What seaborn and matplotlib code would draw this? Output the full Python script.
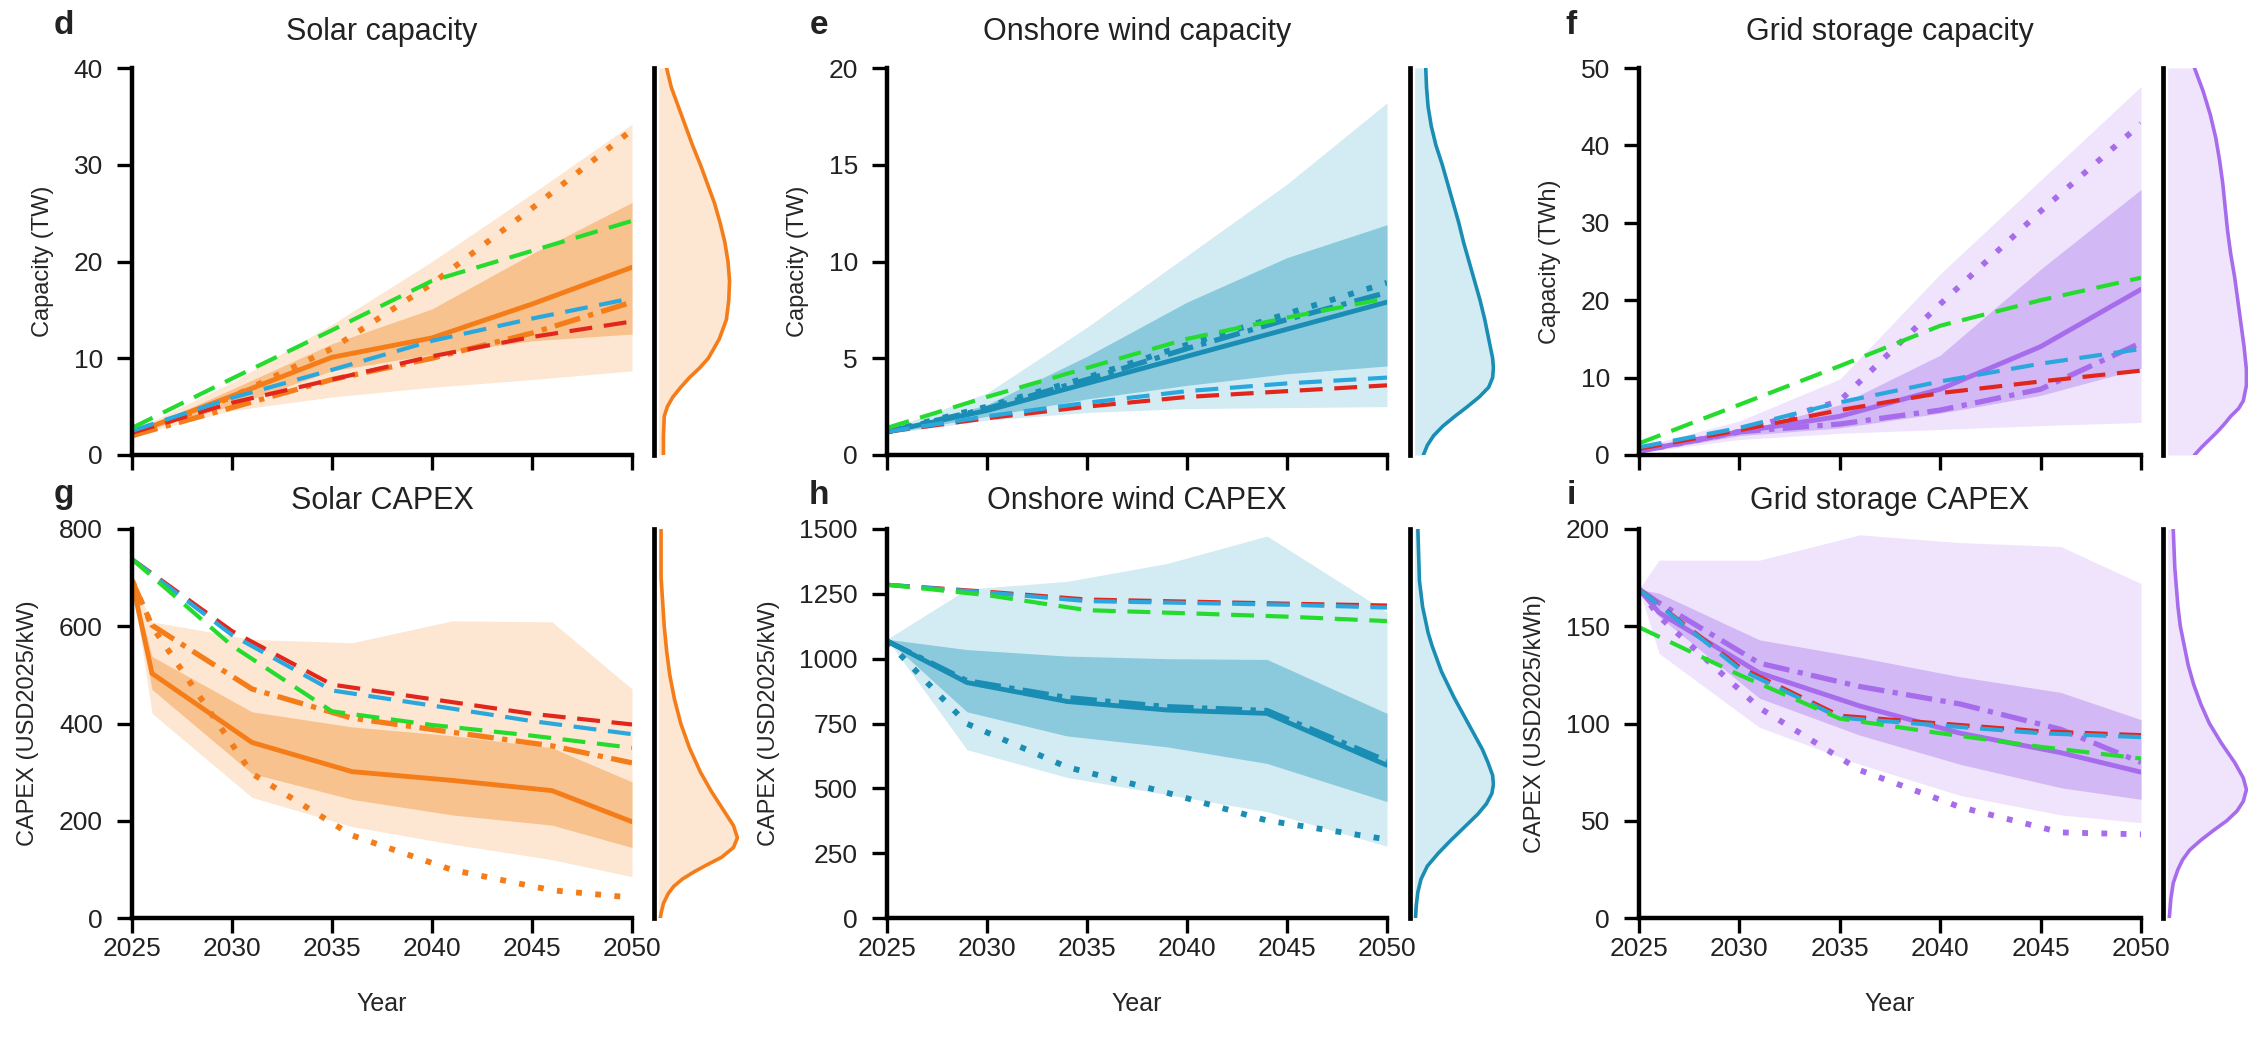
import matplotlib
matplotlib.use("Agg")
import matplotlib.pyplot as plt
import seaborn as sns

sns.set_theme(style="ticks")
plt.rcParams['font.family'] = ['Liberation Sans', 'DejaVu Sans']
plt.rcParams['text.color'] = '#222222'
plt.rcParams['xtick.color'] = 'black'
plt.rcParams['ytick.color'] = 'black'
plt.rcParams['xtick.labelcolor'] = '#222222'
plt.rcParams['ytick.labelcolor'] = '#222222'

# ---- data ----
years_5 = [2025, 2030, 2035, 2040, 2045, 2050]
years_g = [2025, 2026, 2031, 2036, 2041, 2046, 2050]
years_h = [2025, 2029, 2034, 2039, 2044, 2050]
year_ticks = [2025, 2030, 2035, 2040, 2045, 2050]

# d: solar capacity (TW)
solar_cap_med = [2.2, 6.1, 10.1, 12.1, 15.6, 19.4]
solar_cap_q_lo = [2.2, 5.1, 8.7, 10.4, 11.8, 12.5]
solar_cap_q_hi = [2.2, 6.8, 11.5, 15.1, 20.8, 26.1]
solar_cap_lo = [2.0, 4.6, 6.0, 7.0, 7.8, 8.7]
solar_cap_hi = [2.5, 7.5, 13.5, 20.0, 27.0, 34.2]
solar_cap_dot = [2.0, 6.0, 11.0, 17.7, 25.5, 33.6]
solar_cap_dashdot = [2.0, 4.9, 7.8, 10.0, 12.6, 15.8]
solar_cap_green = [2.8, 7.9, 12.9, 18.0, 21.1, 24.2]
solar_cap_blue = [2.5, 5.9, 8.8, 11.8, 14.1, 16.2]
solar_cap_red = [2.3, 5.4, 7.8, 10.2, 12.2, 13.8]
solar_cap_kde_y = [0, 2, 4, 5, 6, 7, 8, 9, 10, 12, 14, 16, 18, 20, 22, 24, 26, 28, 30, 32, 34, 36, 38, 40]
solar_cap_kde = [0.06, 0.06, 0.07, 0.11, 0.18, 0.28, 0.39, 0.52, 0.63, 0.77, 0.86, 0.89, 0.9, 0.88, 0.84, 0.78, 0.71, 0.62, 0.53, 0.43, 0.34, 0.25, 0.16, 0.1]

# e: onshore wind capacity (TW)
wind_cap_med = [1.2, 2.3, 3.7, 5.1, 6.5, 7.9]
wind_cap_q_lo = [1.1, 2.0, 2.9, 3.6, 4.2, 4.6]
wind_cap_q_hi = [1.2, 2.6, 5.1, 7.9, 10.2, 11.9]
wind_cap_lo = [1.1, 1.8, 2.2, 2.4, 2.45, 2.5]
wind_cap_hi = [1.3, 3.2, 6.6, 10.3, 14.0, 18.2]
wind_cap_dot = [1.2, 2.5, 4.0, 5.7, 7.3, 8.9]
wind_cap_dashdot = [1.2, 2.4, 3.9, 5.5, 7.0, 8.4]
wind_cap_green = [1.4, 3.0, 4.5, 6.0, 7.1, 8.1]
wind_cap_blue = [1.2, 2.0, 2.7, 3.3, 3.7, 4.0]
wind_cap_red = [1.2, 1.9, 2.5, 3.0, 3.3, 3.6]
wind_cap_kde_y = [0, 0.5, 1, 1.5, 2, 2.5, 3, 3.5, 4, 4.5, 5, 6, 7, 8, 9, 10, 11, 12, 13, 14, 15, 16, 17, 18, 19, 20]
wind_cap_kde = [0.11, 0.16, 0.24, 0.36, 0.51, 0.67, 0.82, 0.94, 0.99, 1.0, 0.99, 0.94, 0.89, 0.83, 0.76, 0.69, 0.62, 0.56, 0.49, 0.42, 0.35, 0.27, 0.21, 0.17, 0.15, 0.14]

# f: grid storage capacity (TWh)
stor_cap_med = [0.5, 3.0, 5.0, 8.5, 14.0, 21.4]
stor_cap_q_lo = [0.3, 2.5, 3.5, 5.4, 7.7, 11.2]
stor_cap_q_hi = [0.5, 3.0, 6.5, 12.9, 24.0, 34.3]
stor_cap_lo = [0.3, 2.0, 2.8, 3.3, 3.8, 4.2]
stor_cap_hi = [1.0, 4.4, 9.8, 23.4, 35.5, 47.6]
stor_cap_dot = [0.5, 3.0, 7.0, 19.5, 31.5, 42.8]
stor_cap_dashdot = [0.5, 3.0, 4.0, 5.8, 8.5, 14.5]
stor_cap_green = [1.5, 6.5, 11.5, 16.7, 20.0, 22.9]
stor_cap_blue = [1.0, 3.5, 6.8, 9.5, 11.8, 13.7]
stor_cap_red = [0.8, 3.2, 5.8, 8.0, 9.5, 10.9]
stor_cap_kde_y = [0, 1, 2, 3, 4, 5, 6, 7, 9, 11, 14, 17, 20, 23, 26, 29, 32, 35, 38, 41, 44, 47, 50]
stor_cap_kde = [0.34, 0.43, 0.53, 0.63, 0.72, 0.8, 0.9, 0.96, 1.0, 1.0, 0.97, 0.93, 0.89, 0.85, 0.8, 0.76, 0.73, 0.7, 0.66, 0.61, 0.54, 0.45, 0.34]

# g: solar CAPEX (USD2025/kW)
solar_capex_med = [694, 503, 361, 301, 283, 262, 198]
solar_capex_q_lo = [694, 470, 297, 244, 212, 191, 145]
solar_capex_q_hi = [694, 538, 424, 393, 375, 350, 280]
solar_capex_lo = [694, 421, 248, 188, 152, 120, 85]
solar_capex_hi = [694, 609, 573, 566, 611, 609, 471]
solar_capex_dot = [694, 600, 297, 170, 99, 57, 42]
solar_capex_dashdot = [694, 602, 471, 411, 382, 354, 319]
solar_capex_green = [738, 560, 425, 397, 375, 350]
solar_capex_blue = [738, 582, 468, 437, 405, 378]
solar_capex_red = [738, 590, 480, 450, 420, 398]
solar_capex_kde_y = [0, 10, 30, 50, 65, 80, 95, 110, 125, 145, 165, 190, 220, 260, 300, 350, 400, 450, 500, 550, 600, 650, 700, 800]
solar_capex_kde = [0.02, 0.03, 0.06, 0.12, 0.19, 0.3, 0.45, 0.62, 0.8, 0.95, 1.0, 0.95, 0.83, 0.67, 0.53, 0.39, 0.28, 0.2, 0.14, 0.1, 0.07, 0.05, 0.03, 0.03]

# h: onshore wind CAPEX (USD2025/kW)
wind_capex_med = [1068, 908, 835, 802, 789, 589]
wind_capex_q_lo = [1075, 795, 702, 660, 596, 449]
wind_capex_q_hi = [1075, 1035, 1010, 1000, 997, 789]
wind_capex_lo = [1075, 649, 542, 476, 410, 277]
wind_capex_hi = [1075, 1268, 1298, 1367, 1473, 1180]
wind_capex_dot = [1068, 749, 582, 483, 376, 303]
wind_capex_dashdot = [1068, 915, 850, 815, 800, 605]
wind_capex_green = [1285, 1245, 1187, 1175, 1162, 1145]
wind_capex_blue = [1285, 1255, 1222, 1215, 1208, 1197]
wind_capex_red = [1285, 1258, 1228, 1220, 1212, 1205]
wind_capex_kde_y = [0, 50, 100, 150, 200, 250, 300, 350, 400, 440, 480, 515, 550, 600, 650, 700, 750, 800, 850, 900, 950, 1000, 1050, 1100, 1200, 1300, 1500]
wind_capex_kde = [0.01, 0.02, 0.04, 0.08, 0.16, 0.3, 0.46, 0.63, 0.8, 0.91, 0.98, 1.0, 0.99, 0.93, 0.86, 0.77, 0.68, 0.59, 0.5, 0.42, 0.34, 0.28, 0.22, 0.17, 0.1, 0.06, 0.04]

# i: grid storage CAPEX (USD2025/kWh)
stor_capex_med = [169, 157, 126, 109, 95, 85, 75]
stor_capex_q_lo = [169, 155, 113, 94, 79, 67, 61]
stor_capex_q_hi = [169, 167, 143, 134, 124, 116, 102]
stor_capex_lo = [169, 136, 98, 79, 63, 53, 49]
stor_capex_hi = [169, 184, 184, 197, 193, 191, 172]
stor_capex_dot = [169, 155, 108, 76, 57, 44, 43]
stor_capex_dashdot = [169, 162, 131, 119, 110, 97, 80]
stor_capex_green = [149.5, 125, 102.5, 95, 88, 82]
stor_capex_blue = [169, 128, 103, 99, 95, 93]
stor_capex_red = [169, 129, 104, 100, 96, 94]
stor_capex_kde_y = [0, 10, 18, 25, 30, 35, 40, 45, 50, 55, 60, 66, 72, 80, 90, 100, 110, 120, 130, 140, 150, 160, 180, 200]
stor_capex_kde = [0.02, 0.04, 0.07, 0.13, 0.19, 0.28, 0.42, 0.58, 0.75, 0.88, 0.96, 1.0, 0.96, 0.85, 0.68, 0.53, 0.42, 0.33, 0.26, 0.21, 0.16, 0.13, 0.09, 0.07]

ORANGE = ('#F47D1A', '#FDE6D2', '#F8C28E')
TEAL = ('#1A8DB4', '#D3EBF2', '#8BCADD')
PURPLE = ('#A66CEB', '#F0E4FC', '#D3B8F6')
GREEN, BLUE, RED = '#25DC2E', '#2AA8DD', '#E2261C'

W, H = 2253, 1057
fig = plt.figure(figsize=(W / 100, H / 100), dpi=100)


def px_rect(left, top, width, bottom):
    return [left / W, 1 - bottom / H, width / W, (bottom - top) / H]


def panel(col_left, col_w, side_left, top, bottom, title_gap, letter, title, ylabel,
          ylim, yticks, years, med, q_lo, q_hi, lo, hi, dot, dashdot,
          green, blue, red, kde_y, kde, colors, xlabels):
    line_c, light_c, dark_c = colors
    ax = fig.add_axes(px_rect(col_left, top, col_w, bottom))
    axd = fig.add_axes(px_rect(side_left, top, 85, bottom))

    ax.fill_between(years, lo, hi, color=light_c, lw=0, zorder=1)
    ax.fill_between(years, q_lo, q_hi, color=dark_c, lw=0, zorder=1.1)

    sns.lineplot(x=years, y=dot, ax=ax, color=line_c, lw=4.2, linestyle=(0, (1, 2.3)))
    sns.lineplot(x=years, y=dashdot, ax=ax, color=line_c, lw=3.8, linestyle=(0, (5, 1.6, 1, 1.6)))
    sns.lineplot(x=years, y=med, ax=ax, color=line_c, lw=3.5)
    for vals, c in ((red, RED), (blue, BLUE), (green, GREEN)):
        sns.lineplot(x=years_5, y=vals, ax=ax, color=c, lw=3.0, linestyle=(0, (5.5, 2.8)))

    ax.set_xlim(2025, 2050)
    ax.set_ylim(*ylim)
    ax.set_xticks(year_ticks)
    ax.set_yticks(yticks)
    sns.despine(ax=ax)
    for s in ('left', 'bottom'):
        ax.spines[s].set_linewidth(3.2)
        ax.spines[s].set_color('black')
    ax.tick_params(axis='both', length=11, width=2.4, labelsize=19)
    ax.tick_params(axis='y', pad=10)
    ax.tick_params(axis='x', pad=3)
    ax.set_ylabel(ylabel, fontsize=17, labelpad=14)
    if xlabels:
        ax.set_xlabel('Year', fontsize=18, labelpad=22)
    else:
        ax.tick_params(axis='x', labelbottom=False)
        ax.set_xlabel('')

    # marginal density of outcomes
    axd.fill_betweenx(kde_y, 0, kde, color=light_c, lw=0)
    axd.plot(kde, kde_y, color=line_c, lw=2.6)
    axd.set_xlim(-0.06, 1.02)
    axd.set_ylim(*ylim)
    axd.set_xticks([])
    axd.set_yticks([])
    sns.despine(ax=axd, bottom=True)
    axd.spines['left'].set_linewidth(3.4)
    axd.spines['left'].set_color('black')
    axd.patch.set_alpha(0)

    title_y = top - title_gap
    fig.text((col_left + col_w / 2) / W, 1 - title_y / H, title,
             ha='center', va='center', fontsize=22)
    fig.text((col_left - 68) / W, 1 - (title_y - 6) / H, letter,
             ha='center', va='center', fontsize=24, fontweight='bold')


cols = [(132, 500, 654), (887, 500, 1410), (1639, 502, 2163)]
row1 = (68, 455, 36)
row2 = (529, 918, 28)

panel(*cols[0], *row1, 'd', 'Solar capacity', 'Capacity (TW)', (0, 40), range(0, 41, 10),
      years_5, solar_cap_med, solar_cap_q_lo, solar_cap_q_hi, solar_cap_lo, solar_cap_hi,
      solar_cap_dot, solar_cap_dashdot, solar_cap_green, solar_cap_blue, solar_cap_red,
      solar_cap_kde_y, solar_cap_kde, ORANGE, False)
panel(*cols[1], *row1, 'e', 'Onshore wind capacity', 'Capacity (TW)', (0, 20), range(0, 21, 5),
      years_5, wind_cap_med, wind_cap_q_lo, wind_cap_q_hi, wind_cap_lo, wind_cap_hi,
      wind_cap_dot, wind_cap_dashdot, wind_cap_green, wind_cap_blue, wind_cap_red,
      wind_cap_kde_y, wind_cap_kde, TEAL, False)
panel(*cols[2], *row1, 'f', 'Grid storage capacity', 'Capacity (TWh)', (0, 50), range(0, 51, 10),
      years_5, stor_cap_med, stor_cap_q_lo, stor_cap_q_hi, stor_cap_lo, stor_cap_hi,
      stor_cap_dot, stor_cap_dashdot, stor_cap_green, stor_cap_blue, stor_cap_red,
      stor_cap_kde_y, stor_cap_kde, PURPLE, False)
panel(*cols[0], *row2, 'g', 'Solar CAPEX', 'CAPEX (USD2025/kW)', (0, 800), range(0, 801, 200),
      years_g, solar_capex_med, solar_capex_q_lo, solar_capex_q_hi, solar_capex_lo, solar_capex_hi,
      solar_capex_dot, solar_capex_dashdot, solar_capex_green, solar_capex_blue, solar_capex_red,
      solar_capex_kde_y, solar_capex_kde, ORANGE, True)
panel(*cols[1], *row2, 'h', 'Onshore wind CAPEX', 'CAPEX (USD2025/kW)', (0, 1500), range(0, 1501, 250),
      years_h, wind_capex_med, wind_capex_q_lo, wind_capex_q_hi, wind_capex_lo, wind_capex_hi,
      wind_capex_dot, wind_capex_dashdot, wind_capex_green, wind_capex_blue, wind_capex_red,
      wind_capex_kde_y, wind_capex_kde, TEAL, True)
panel(*cols[2], *row2, 'i', 'Grid storage CAPEX', 'CAPEX (USD2025/kWh)', (0, 200), range(0, 201, 50),
      years_g, stor_capex_med, stor_capex_q_lo, stor_capex_q_hi, stor_capex_lo, stor_capex_hi,
      stor_capex_dot, stor_capex_dashdot, stor_capex_green, stor_capex_blue, stor_capex_red,
      stor_capex_kde_y, stor_capex_kde, PURPLE, True)

fig.savefig('out.png', dpi=100)
